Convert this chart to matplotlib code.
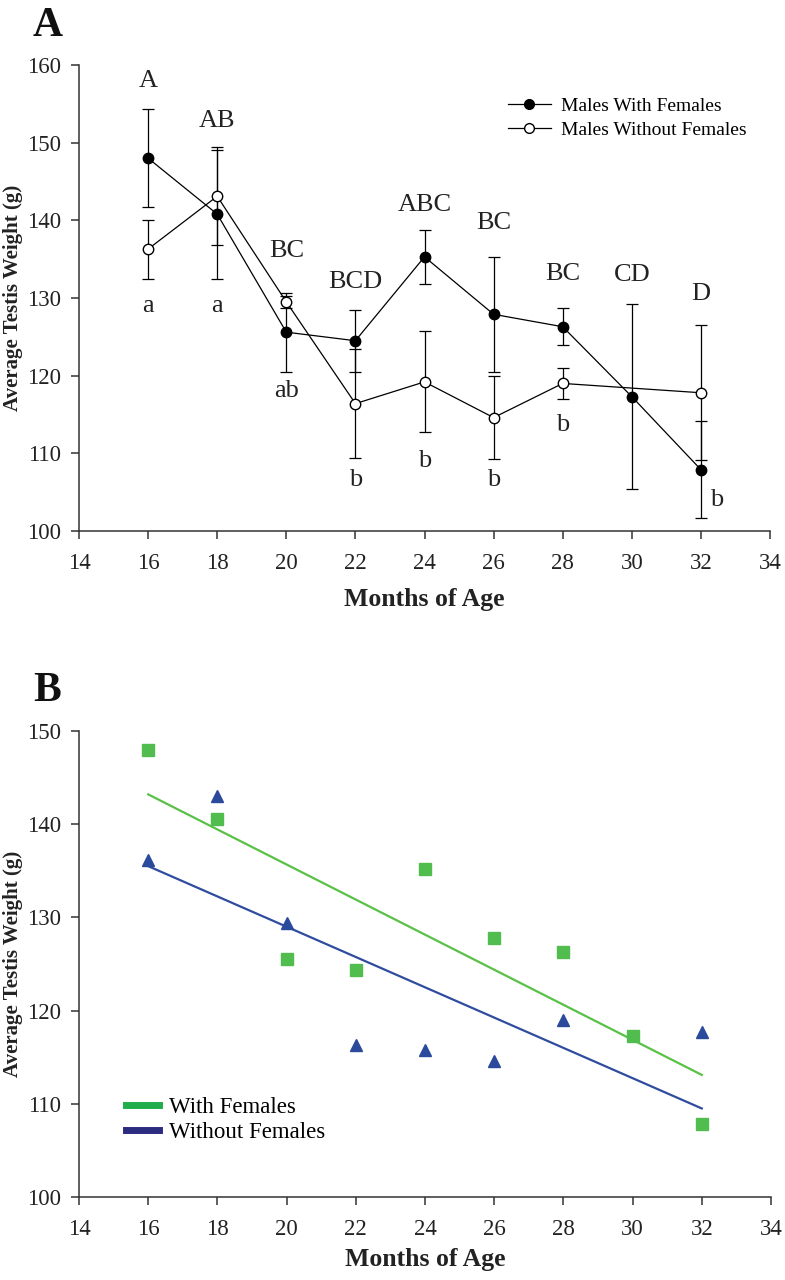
import numpy as np
import matplotlib
matplotlib.use("Agg")
import matplotlib.pyplot as plt
from matplotlib.lines import Line2D

plt.rcParams['font.family'] = ['Liberation Serif', 'DejaVu Serif']

# panel A : moyennes +/- erreur
months = [16, 18, 20, 22, 24, 26, 28, 30, 32]
with_fem = [148.0, 140.8, 125.6, 124.5, 135.3, 127.9, 126.3, 117.3, 107.9]
with_fem_err = [6.3, 8.3, 5.1, 4.0, 3.5, 7.4, 2.4, 11.9, 6.2]
months_wo = [16, 18, 20, 22, 24, 26, 28, 32]
without_fem = [136.3, 143.1, 129.5, 116.4, 119.2, 114.6, 119.0, 117.8]
without_fem_err = [3.8, 6.3, 0.8, 7.0, 6.5, 5.3, 2.0, 8.7]

# lettres de significativite
upper_letters = ['A', 'AB', 'BC', 'BCD', 'ABC', 'BC', 'BC', 'CD', 'D']
upper_y = [157.9, 152.8, 136.0, 132.1, 142.0, 139.7, 133.1, 132.9, 130.5]
lower_letters = ['a', 'a', 'ab', 'b', 'b', 'b', 'b', 'b']
lower_x = [16, 18, 20, 22, 24, 26, 28, 32.45]
lower_y = [129.0, 129.0, 118.0, 106.6, 109.0, 106.6, 113.6, 104.0]

# panel B : points + droites de regression
b_with = [148.0, 140.6, 125.5, 124.4, 135.2, 127.8, 126.3, 117.3, 107.8]
b_without = [136.2, 143.0, 129.4, 116.3, 115.8, 114.6, 119.0, 117.7]
fit_x = [16, 32]
fit_with = [143.2, 113.1]
fit_without = [135.5, 109.5]

W, H = 785, 1280
fig = plt.figure(figsize=(W / 100, H / 100), dpi=100)
axA = fig.add_axes([79 / W, 1 - 531 / H, 691 / W, 466 / H])
axB = fig.add_axes([79 / W, 1 - 1197 / H, 692 / W, 466 / H])


def style_axes(ax, ylim, yticks):
    ax.spines['top'].set_visible(False)
    ax.spines['right'].set_visible(False)
    for s in ['left', 'bottom']:
        ax.spines[s].set_color('#333333')
        ax.spines[s].set_linewidth(1.1)
    ax.set_xlim(14, 34)
    ax.set_xticks(range(14, 35, 2))
    ax.set_ylim(*ylim)
    ax.set_yticks(yticks)
    ax.tick_params(direction='out', length=6, width=1.1, color='#333333',
                   labelsize=16.5, labelcolor='#222222')
    ax.tick_params(axis='x', pad=10)
    ax.tick_params(axis='y', pad=7)
    ax.set_xlabel('Months of Age', fontsize=18.5, fontweight='bold', color='#222222')
    ax.set_ylabel('Average Testis Weight (g)', fontsize=15, fontweight='bold', color='#222222')
    ax.yaxis.set_label_coords(-0.081, 0.5)


# ---- A ----
style_axes(axA, (100, 160), range(100, 161, 10))
axA.xaxis.set_label_coords(0.5, -0.122)
axA.errorbar(months, with_fem, yerr=with_fem_err, fmt='-o', color='black',
             mfc='black', mec='black', ms=7.5, lw=0.9, elinewidth=0.9,
             capsize=4.6, capthick=0.9, zorder=3)
axA.errorbar(months_wo, without_fem, yerr=without_fem_err, fmt='-o', color='black',
             mfc='white', mec='black', ms=7.5, lw=0.9, elinewidth=0.9,
             capsize=4.6, capthick=0.9, zorder=4)

for x, lab, y in zip(months, upper_letters, upper_y):
    axA.text(x, y, lab, fontsize=19, ha='center', va='center', color='#222222')
for x, lab, y in zip(lower_x, lower_letters, lower_y):
    axA.text(x, y, lab, fontsize=19, ha='center', va='center', color='#222222')

hA = [Line2D([], [], color='black', marker='o', mfc='black', mec='black', ms=7, lw=0.9),
      Line2D([], [], color='black', marker='o', mfc='white', mec='black', ms=7, lw=0.9)]
axA.legend(hA, ['Males With Females', 'Males Without Females'], loc='upper left',
           bbox_to_anchor=(508 / W, 1 - 97 / H), bbox_transform=fig.transFigure,
           frameon=False, fontsize=14, handlelength=2.2, handletextpad=0.55,
           labelspacing=0.36, borderpad=0, borderaxespad=0)

# ---- B ----
style_axes(axB, (100, 150), range(100, 151, 10))
axB.xaxis.set_label_coords(0.5, -0.109)
axB.plot(fit_x, fit_with, color='#58c146', lw=1.6, zorder=2)
axB.plot(fit_x, fit_without, color='#2f4c9e', lw=1.6, zorder=2)
axB.plot(months, b_with, linestyle='none', marker='s', ms=8.5, color='#52bd4f',
         mec='#52bd4f', zorder=3)
axB.plot(months_wo, b_without, linestyle='none', marker='^', ms=9, color='#2c4a9c',
         mec='#2c4a9c', zorder=3)

hB = [Line2D([], [], color='#1fae4b', lw=5), Line2D([], [], color='#2b2c7f', lw=5)]
axB.legend(hB, ['With Females', 'Without Females'], loc='upper left',
           bbox_to_anchor=(126 / W, 1 - 1097 / H), bbox_transform=fig.transFigure,
           frameon=False, fontsize=16.5, handlelength=1.42, handletextpad=0.44,
           labelspacing=0.17, borderpad=0, borderaxespad=0)

fig.text(33 / W, 1 - 36 / H, 'A', fontsize=30, fontweight='bold', va='baseline', color='#111111')
fig.text(33 / W, 1 - 701 / H, 'B', fontsize=30, fontweight='bold', va='baseline', color='#111111')

fig.savefig('out.png', dpi=100, facecolor='white')
